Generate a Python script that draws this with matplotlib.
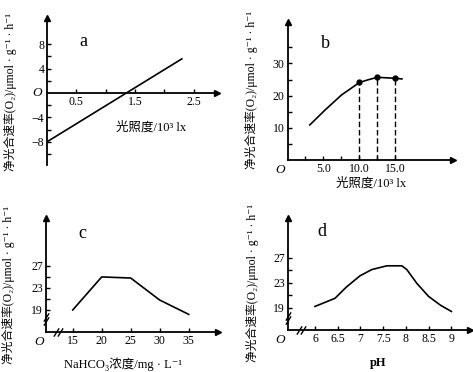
import matplotlib
matplotlib.use("Agg")
import matplotlib.pyplot as plt

plt.rcParams['font.family'] = ['Liberation Serif', 'Noto Sans CJK SC', 'DejaVu Sans']
plt.rcParams['font.size'] = 8
plt.rcParams['axes.linewidth'] = 1.3

W, H = 473, 372

# a: light intensity (10^3 lx) vs net rate
a_light = [0, 2.3]
a_rate = [-8, 5.6]
# b: light intensity (10^3 lx) vs net rate
b_light = [3.1, 5.2, 7.5, 10.0, 11.3, 12.5, 15.0, 15.9]
b_rate = [10.9, 15.5, 20.2, 24.1, 25.0, 25.7, 25.4, 25.2]
b_marked = [10.0, 12.5, 15.0]
# c: NaHCO3 concentration vs net rate
c_conc = [15, 20, 25, 30, 35]
c_rate = [19.0, 25.0, 24.8, 20.8, 18.2]
# d: pH vs net rate
d_ph = [6.0, 6.44, 6.69, 6.99, 7.25, 7.58, 7.91, 8.02, 8.24, 8.5, 8.76, 9.0]
d_rate = [19.2, 20.5, 22.3, 24.1, 25.1, 25.7, 25.7, 25.1, 22.9, 20.8, 19.4, 18.4]

ylab = "净光合速率(O₂)/μmol · g⁻¹ · h⁻¹"

fig = plt.figure(figsize=(W / 100, H / 100), dpi=100)


def box(l, r, t, b):
    return [l / W, 1 - b / H, (r - l) / W, (b - t) / H]


def style(ax, y0=None):
    ax.spines['top'].set_visible(False)
    ax.spines['right'].set_visible(False)
    ax.tick_params(direction='in', length=3, width=1, pad=2, labelsize=8.5)
    if y0 is None:
        ax.plot(1, 0, '>k', ms=4, transform=ax.transAxes, clip_on=False)
    else:
        ax.spines['bottom'].set_position(('data', y0))
        ax.plot(1, y0, '>k', ms=4, transform=ax.get_yaxis_transform(), clip_on=False)
    ax.plot(0, 1, '^k', ms=4, transform=ax.transAxes, clip_on=False)
    ax.patch.set_alpha(0)


def ftext(x, y, s, **kw):
    fig.text(x / W, 1 - y / H, s, ha='center', va='center', **kw)


slash = [(-1, -1.6), (1, 1.6)]


def breaks(ax, xb, yb):
    # axis break marks "//"
    ax.plot([xb - 0.012, xb + 0.012], [0, 0], ls='none', marker=slash, ms=6, mew=1,
            color='k', transform=ax.transAxes, clip_on=False)
    ax.plot([0, 0], [yb - 0.02, yb + 0.02], ls='none', marker=slash, ms=6, mew=1,
            color='k', transform=ax.transAxes, clip_on=False)


# ---- a
ax = fig.add_axes(box(47, 217, 18, 165))
ax.plot(a_light, a_rate, color='k', lw=1.2)
ax.set_xlim(0, 2.9)
ax.set_ylim(-11.8, 12.3)
style(ax, 0)
ax.set_xticks([0.5, 1, 1.5, 2, 2.5])
ax.set_xticklabels(['0.5', '', '1.5', '', '2.5'])
ax.set_yticks([-10, -8, -6, -4, -2, 2, 4, 6, 8])
ax.set_yticklabels(['', '−8', '', '−4', '', '', '4', '', '8'])
ftext(37, 93, 'O', style='italic', fontsize=9.5)
ftext(83, 42, 'a', fontsize=13)
ftext(151, 127, '光照度/10³ lx', fontsize=9)
ftext(10, 92, ylab, rotation=90, fontsize=8.5)

# ---- b
ax = fig.add_axes(box(287.5, 453, 22, 160))
ax.plot(b_light, b_rate, color='k', lw=1.2)
for xv in b_marked:
    yv = b_rate[b_light.index(xv)]
    ax.plot([xv, xv], [0, yv], color='k', lw=1, ls=(0, (4, 2)))
    ax.plot(xv, yv, 'ko', ms=3.5)
ax.set_xlim(0, 23)
ax.set_ylim(0, 42.9)
style(ax)
ax.set_xticks([2.5, 5, 7.5, 10, 12.5, 15])
ax.set_xticklabels(['', '5.0', '', '10.0', '', '15.0'])
ax.set_yticks([5, 10, 15, 20, 25, 30, 35])
ax.set_yticklabels(['', '10', '', '20', '', '30', ''])
ftext(280, 170, 'O', style='italic', fontsize=9.5)
ftext(325, 43, 'b', fontsize=13)
ftext(371, 183, '光照度/10³ lx', fontsize=9)
ftext(251, 90, ylab, rotation=90, fontsize=8.5)

# ---- c
ax = fig.add_axes(box(45.7, 218, 218, 332))
ax.plot(c_conc, c_rate, color='k', lw=1.2)
ax.set_xlim(10.34, 40.05)
ax.set_ylim(15, 35.7)
style(ax)
ax.set_xticks(c_conc)
ax.set_yticks([19, 21, 23, 25, 27])
ax.set_yticklabels(['19', '', '23', '', '27'])
breaks(ax, (58 - 45.7) / (218 - 45.7), (332 - 319) / (332 - 218))
ftext(39, 342, 'O', style='italic', fontsize=9.5)
ftext(82, 233, 'c', fontsize=13)
ftext(123, 364, 'NaHCO₃浓度/mg · L⁻¹', fontsize=9)
ftext(8, 285, ylab, rotation=90, fontsize=8.5)

# ---- d
ax = fig.add_axes(box(287.7, 470, 218, 330))
ax.plot(d_ph, d_rate, color='k', lw=1.2)
ax.set_xlim(5.4, 9.41)
ax.set_ylim(15.43, 33.35)
style(ax)
ax.set_xticks([6, 6.5, 7, 7.5, 8, 8.5, 9])
ax.set_xticklabels(['6', '6.5', '7', '7.5', '8', '8.5', '9'])
ax.set_yticks([19, 21, 23, 25, 27])
ax.set_yticklabels(['19', '', '23', '', '27'])
breaks(ax, (301 - 287.7) / (470 - 287.7), (330 - 318) / (330 - 218))
ftext(280, 340, 'O', style='italic', fontsize=9.5)
ftext(322, 232, 'd', fontsize=13)
ftext(378, 363, 'pH', fontsize=9, fontweight='bold')
ftext(252, 283, ylab, rotation=90, fontsize=8.5)

fig.savefig('out.png', dpi=100)
